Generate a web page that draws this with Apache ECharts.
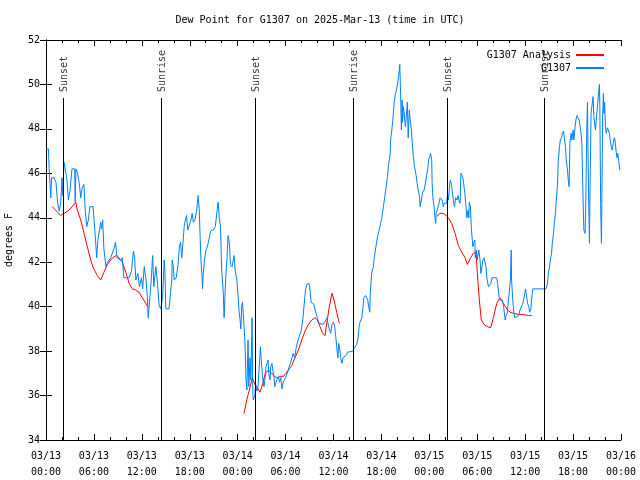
<!DOCTYPE html>
<html><head><meta charset="utf-8">
<script src="https://cdn.jsdelivr.net/npm/echarts@6/dist/echarts.min.js"></script>
<style>html,body{margin:0;padding:0;background:#fff}#c{width:640px;height:480px}</style>
</head><body><div id="c"></div>
<script>
// ---- data (hours since 2025-03-13 00:00 UTC) ----
const xTickLabels = ['03/13\n00:00','03/13\n06:00','03/13\n12:00','03/13\n18:00','03/14\n00:00','03/14\n06:00','03/14\n12:00','03/14\n18:00','03/15\n00:00','03/15\n06:00','03/15\n12:00','03/15\n18:00','03/16\n00:00'];
const sunLabels = ['Sunset','Sunrise','Sunset','Sunrise','Sunset','Sunrise'];
const sunHours = [2.13, 14.4, 26.17, 38.45, 50.22, 62.45];

const blueHours = [0.0,0.3,0.4,0.6,0.7,1.0,1.25,1.45,1.65,1.85,2.0,2.1,2.25,2.5,2.6,2.8,3.0,3.25,3.6,3.65,3.75,3.95,4.15,4.35,4.5,4.75,4.9,5.1,5.3,5.5,5.9,6.2,6.35,6.5,6.85,6.95,7.1,7.25,7.5,7.75,8.1,8.5,8.7,8.9,9.35,9.55,9.75,10.4,10.7,10.95,11.1,11.25,11.5,11.7,11.95,12.1,12.3,12.5,12.7,12.8,13.0,13.2,13.35,13.5,13.75,13.95,14.15,14.35,
14.6,14.8,14.9,15.0,15.4,15.75,15.8,15.95,16.05,16.3,16.55,16.7,16.85,17.0,17.2,17.3,17.45,17.6,17.75,17.95,18.15,18.3,18.45,18.65,18.85,19.0,19.05,19.2,19.3,19.4,19.55,19.6,19.7,19.85,20.0,20.2,20.45,20.6,20.95,21.2,21.45,21.55,21.7,21.85,22.0,22.2,22.3,22.5,22.65,22.8,22.95,23.1,23.3,23.55,23.7,23.9,24.05,24.15,24.3,24.4,24.5,24.6,24.75,24.9,25.05,25.15,25.3,25.4,25.55,25.65,25.8,25.9,25.95,26.15,26.25,26.4,26.55,26.65,26.75,26.85,26.9,27.05,27.15,27.3,27.4,27.55,27.8,27.9,28.05,28.15,28.3,28.4,28.55,28.65,28.8,28.9,29.1,29.25,29.4,29.55,29.7,29.85,30.0,30.2,30.35,30.45,30.65,30.8,30.95,31.15,31.3,31.45,31.65,31.8,31.95,32.15,32.25,32.4,32.5,32.65,32.8,32.95,33.1,33.2,33.55,33.7,33.9,34.05,34.2,34.4,34.7,34.9,35.05,35.2,35.3,35.5,35.65,35.8,36.0,36.15,36.3,36.4,36.55,36.65,36.8,36.9,37.05,37.2,37.55,37.75,37.9,38.4,38.55,38.75,38.9,39.05,39.25,39.3,39.55,39.7,39.8,40.0,40.15,40.3,40.4,40.55,40.6,40.7,40.8,41.0,41.1,41.25,41.4,41.55,41.75,41.9,42.05,42.25,42.4,42.6,42.75,42.9,43.1,43.15,43.3,43.4,43.5,43.6,43.75,43.9,44.05,44.15,44.25,44.3,44.4,44.5,44.6,44.65,44.75,44.85,45.0,45.1,45.25,45.35,45.5,45.6,45.75,45.85,46.0,46.15,46.35,46.45,46.6,46.75,46.85,47.0,47.15,47.35,47.5,47.65,47.8,47.9,48.05,48.15,48.3,48.35,48.45,48.6,48.7,48.8,48.85,49.0,49.1,49.25,49.35,49.6,49.75,49.85,50.15,50.3,50.4,50.55,50.65,50.8,50.9,51.05,51.15,51.3,51.45,51.6,51.7,51.85,51.95,52.1,52.2,52.45,52.6,52.7,52.85,52.95,53.0,53.15,53.25,53.35,53.45,53.6,53.7,53.75,53.9,54.0,54.2,54.35,54.45,54.6,54.7,54.85,55.1,55.2,55.4,55.6,55.7,55.85,56.45,56.6,56.75,56.85,57.15,57.3,57.5,57.6,57.75,57.9,58.0,58.15,58.25,58.3,58.45,58.55,58.7,59.2,59.35,59.5,59.65,59.75,59.95,60.05,60.2,60.3,60.45,60.55,60.7,60.8,60.95,62.6,62.8,62.9,63.05,63.15,63.3,63.4,63.55,63.65,63.8,63.9,64.05,64.15,64.3,64.4,64.55,64.65,64.8,64.9,65.05,65.15,65.3,65.4,65.5,65.6,65.75,65.85,66.0,66.1,66.25,66.35,66.5,66.6,66.75,66.85,67.0,67.1,67.25,67.35,67.5,67.6,67.7,67.8,67.85,67.95,68.05,68.1,68.25,68.35,68.5,68.6,68.8,68.9,69.05,69.15,69.3,69.35,69.45,69.55,69.6,69.7,69.8,69.85,69.95,70.05,70.15,70.3,70.4,70.55,70.65,70.8,70.9,71.05,71.15,71.25,71.4,71.5,71.6,71.75,71.85];
const blueValues = [47.1,47.1,46.2,44.9,45.8,45.8,45.6,44.7,44.3,44.7,45.8,45.0,46.5,46.5,45.8,44.8,45.2,46.2,46.2,44.7,46.2,46.0,45.6,44.9,45.3,45.5,44.4,43.6,43.9,44.5,44.5,43.0,42.2,43.0,43.8,43.5,43.9,42.6,41.8,42.0,42.2,42.6,42.9,42.2,42.1,42.2,41.3,41.3,41.6,42.5,42.2,41.2,41.5,40.9,41.3,40.8,41.8,41.3,40.4,39.5,40.4,41.3,42.3,40.9,41.8,41.1,40.1,39.9,
40.4,42.1,41.5,39.9,39.9,41.2,42.1,41.8,41.2,41.3,41.9,42.7,42.9,42.2,43.1,43.6,43.9,44.1,43.45,43.5,43.9,44.2,43.8,43.9,44.3,44.8,45.0,44.3,43.1,42.1,41.3,40.8,41.5,42.1,42.5,42.7,43.1,43.4,43.45,43.6,44.4,44.7,44.0,43.6,41.65,40.6,39.5,41.3,42.1,43.2,42.9,41.9,41.8,42.3,41.6,41.2,40.5,39.9,39.4,39.0,40.0,40.2,39.4,38.5,36.7,36.25,38.5,36.4,37.7,36.7,39.5,36.1,35.8,36.0,36.5,36.2,36.4,37.0,37.6,38.2,37.9,37.15,36.7,36.4,36.7,37.3,37.6,37.0,36.7,37.3,37.45,37.15,36.8,36.4,36.6,36.7,36.85,36.6,36.8,36.3,36.6,36.6,36.8,36.85,37.15,37.3,37.5,37.7,37.9,37.7,38.1,38.35,38.6,38.6,38.9,39.4,39.8,40.4,40.75,41.0,41.05,41.05,40.6,40.2,40.1,39.85,39.6,39.4,39.25,39.2,39.2,39.25,39.4,39.5,39.25,38.95,38.8,39.2,39.3,39.1,38.6,38.2,37.7,38.35,38.05,37.7,37.45,37.7,37.8,37.95,38.0,38.0,38.1,38.1,38.3,38.5,39.25,39.25,39.5,40.0,40.4,40.5,40.5,40.3,40.0,39.75,40.6,41.1,41.55,41.8,42.2,42.55,42.9,43.2,43.5,43.75,44.0,44.5,44.9,45.4,45.85,46.4,46.9,47.5,47.95,48.3,48.7,49.2,49.6,49.75,50.1,50.4,50.65,50.9,49.6,47.95,49.3,48.3,49.0,48.7,48.1,48.5,49.2,47.6,48.85,48.4,47.95,47.4,46.75,46.3,45.9,45.6,45.25,45.0,44.5,44.8,45.15,45.25,45.55,45.9,46.2,46.6,46.75,46.9,46.6,45.55,44.9,44.5,44.0,43.75,44.2,44.35,44.5,44.7,44.9,44.8,44.5,44.65,44.65,45.1,44.8,45.55,45.7,45.4,45.1,44.65,44.5,44.9,44.8,45.0,44.8,44.65,46.0,45.9,45.8,45.1,45.15,44.0,44.35,44.0,44.7,44.5,43.6,43.15,42.7,42.9,43.0,42.2,42.55,42.1,42.55,42.1,41.5,41.8,42.1,42.2,41.8,41.3,40.9,40.9,41.05,41.3,41.3,40.9,40.4,40.3,40.3,40.0,39.4,39.6,39.7,40.3,40.6,41.2,42.55,41.2,40.3,39.85,39.5,39.6,39.85,39.85,40.1,40.2,40.6,40.8,40.75,40.15,40.0,39.75,39.85,40.3,40.8,40.8,41.05,41.5,41.8,42.1,42.4,42.85,43.3,43.75,44.25,44.8,45.5,46.6,47.2,47.5,47.6,47.8,47.9,47.6,47.2,46.6,46.15,45.7,45.4,47.35,47.8,47.5,47.95,47.5,48.1,48.4,48.6,48.6,48.4,48.2,47.8,47.35,44.8,43.45,43.3,44.8,47.8,49.2,47.6,44.8,42.85,44.65,48.7,49.0,49.45,48.55,47.95,48.4,49.0,49.45,50.0,49.0,44.65,42.85,44.65,48.55,49.6,48.7,49.2,48.1,47.8,48.05,48.1,47.8,47.5,47.15,47.05,47.4,47.6,47.5,46.95,46.7,46.9,46.45,46.15];

// analysis series; null marks a gap
const redHours = [0.79,1.84,2.25,2.75,3.29,3.72,3.92,4.35,4.76,5.17,5.6,5.92,6.42,6.85,7.26,7.68,8.1,8.5,8.85,9.14,9.55,10.0,10.4,10.8,11.2,11.65,12.06,12.5,12.77,
null,
24.8,25.13,25.46,25.83,26.17,26.46,26.8,27.14,27.46,27.84,28.26,28.68,28.96,29.3,29.7,30.05,30.34,30.77,31.18,31.6,32.02,32.43,32.85,33.27,33.68,33.97,34.31,34.65,34.94,35.15,35.48,35.81,36.06,36.4,36.73,
null,
48.92,49.34,49.75,50.09,50.38,50.8,51.22,51.63,52.06,52.47,52.76,53.18,53.51,53.85,54.01,54.26,54.51,54.85,55.26,55.69,56.01,56.44,56.85,57.26,57.69,58.1,58.52,59.14,59.77,60.4,60.82];
const redValues = [44.5,44.1,44.2,44.3,44.5,44.7,44.35,43.9,43.3,42.7,42.1,41.75,41.4,41.2,41.55,41.9,42.1,42.25,42.3,42.2,42.0,41.55,41.05,40.8,40.75,40.65,40.4,40.15,40.0,
null,
35.2,35.8,36.25,36.8,36.5,36.35,36.15,36.55,37.0,37.15,37.0,36.85,36.8,36.85,36.85,37.0,37.15,37.35,37.7,38.05,38.5,38.9,39.2,39.4,39.5,39.4,39.1,38.8,38.7,39.25,40.0,40.6,40.3,39.75,39.25,
null,
44.05,44.2,44.2,44.1,44.0,43.75,43.3,42.75,42.45,42.2,41.9,42.2,42.4,42.45,41.5,40.3,39.4,39.2,39.1,39.05,39.5,40.15,40.4,40.15,39.9,39.75,39.7,39.65,39.65,39.6,39.6];

// ---- build ----
const FONT = '"DejaVu Sans Mono", "Liberation Mono", monospace';
const RED = '#ff0000', BLUE = '#0080ff';
const SUN_LINE_TOP = 49.39, SUN_LABEL_Y = 49.66;

const blueData = blueHours.map((h, i) => [h, blueValues[i]]);
const redSegments = [[]];
redHours.forEach((h, i) => {
  if (h === null) redSegments.push([]);
  else redSegments[redSegments.length - 1].push([h, redValues[i]]);
});

const series = [];
redSegments.forEach(seg => series.push({
  name: 'G1307 Analysis', type: 'line', data: seg, symbol: 'none',
  lineStyle: {color: RED, width: 1}, itemStyle: {color: RED}, z: 3, animation: false
}));
series.push({
  name: 'G1307', type: 'line', data: blueData, symbol: 'none',
  lineStyle: {color: BLUE, width: 1}, itemStyle: {color: BLUE}, z: 4, animation: false,
  markLine: {
    silent: true, symbol: ['none', 'none'], animation: false,
    lineStyle: {color: '#000', width: 1, type: 'solid'},
    label: {show: false},
    data: sunHours.map(h => [{coord: [h, 34]}, {coord: [h, SUN_LINE_TOP]}])
  }
});
series.push({
  name: 'sun', type: 'scatter', symbolSize: 0, animation: false, silent: true,
  data: sunHours.map((h, i) => ({value: [h, SUN_LABEL_Y], label: {formatter: sunLabels[i]}})),
  label: {show: true, position: [1, 0], rotate: 90, align: 'left', verticalAlign: 'middle',
          fontFamily: FONT, fontSize: 10, color: '#000'}
});

const axisBase = {
  axisLine: {show: true, lineStyle: {color: '#000', width: 1}},
  splitLine: {show: false}
};

const option = {
  backgroundColor: '#fff',
  animation: false,
  title: {text: 'Dew Point for G1307 on 2025-Mar-13 (time in UTC)', left: 'center', top: 10,
          textStyle: {fontFamily: FONT, fontSize: 10, fontWeight: 'normal', color: '#000'}},
  legend: {
    data: ['G1307 Analysis', 'G1307'], orient: 'vertical', right: 30, top: 45,
    align: 'right', itemWidth: 28, itemHeight: 10, itemGap: 3,
    itemStyle: {color: 'transparent', borderColor: 'transparent', borderWidth: 0},
    textStyle: {fontFamily: FONT, fontSize: 10, color: '#000'}
  },
  grid: {left: 46, right: 19, top: 40, bottom: 40, containLabel: false, outerBoundsMode: 'none'},
  xAxis: [
    Object.assign({}, axisBase, {
      type: 'value', min: 0, max: 72, interval: 6, position: 'bottom',
      axisTick: {show: true, inside: true, length: 6, lineStyle: {color: '#000'}},
      minorTick: {show: true, splitNumber: 3, length: 3, lineStyle: {color: '#000'}},
      axisLabel: {fontFamily: FONT, fontSize: 10, color: '#000', margin: 8, lineHeight: 16,
                  formatter: v => xTickLabels[Math.round(v / 6)]}
    }),
    Object.assign({}, axisBase, {
      type: 'value', min: 0, max: 72, interval: 6, position: 'top',
      axisTick: {show: true, inside: true, length: 6, lineStyle: {color: '#000'}},
      minorTick: {show: true, splitNumber: 3, length: 3, lineStyle: {color: '#000'}},
      axisLabel: {show: false}
    })
  ],
  yAxis: [
    Object.assign({}, axisBase, {
      type: 'value', min: 34, max: 52, interval: 2, position: 'left',
      name: 'degrees F', nameLocation: 'middle', nameGap: 32, nameRotate: 90,
      nameTextStyle: {fontFamily: FONT, fontSize: 10, color: '#000'},
      axisTick: {show: true, inside: true, length: 6, lineStyle: {color: '#000'}},
      axisLabel: {fontFamily: FONT, fontSize: 10, color: '#000', margin: 6}
    }),
    Object.assign({}, axisBase, {
      type: 'value', min: 34, max: 52, interval: 2, position: 'right',
      axisTick: {show: true, inside: true, length: 6, lineStyle: {color: '#000'}},
      axisLabel: {show: false}
    })
  ],
  series: series
};

const chart = echarts.init(document.getElementById('c'), null, {renderer: 'canvas'});
chart.setOption(option);
</script>
</body></html>
